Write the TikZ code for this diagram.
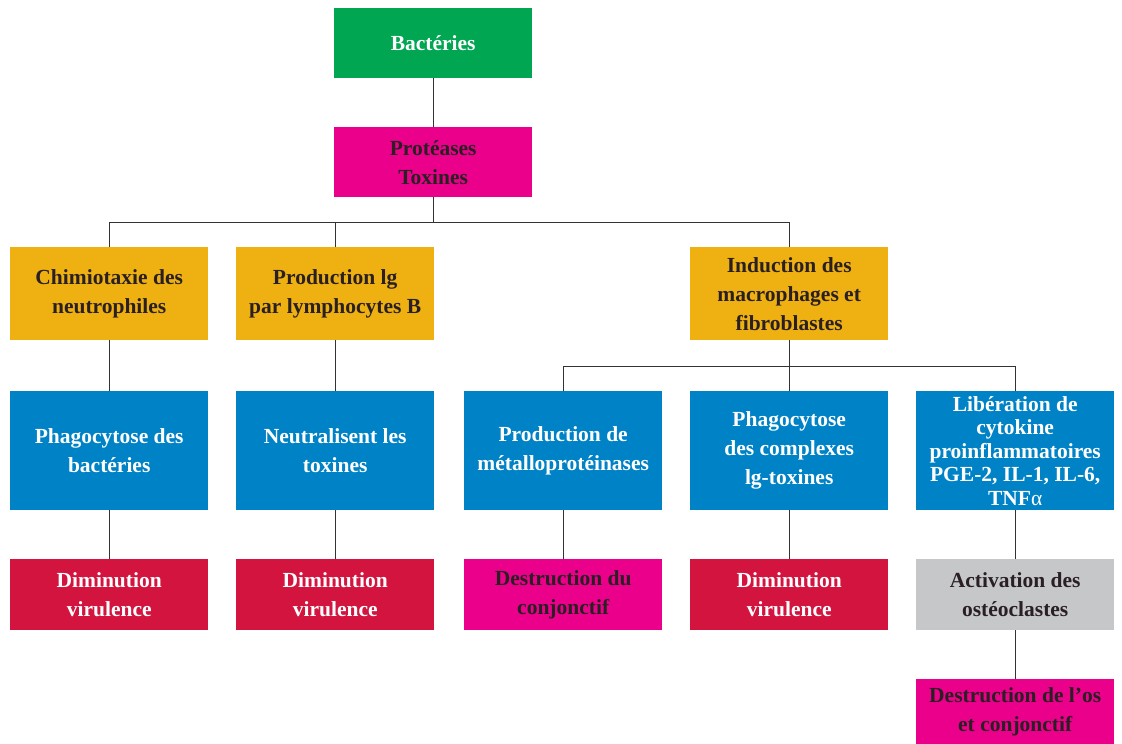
\documentclass[tikz,border=0pt]{standalone}
\usepackage{fontspec}
\setmainfont{Liberation Serif}
\definecolor{cgreen}{HTML}{00A651}
\definecolor{cmag}{HTML}{EA008A}
\definecolor{corange}{HTML}{EEB111}
\definecolor{cblue}{HTML}{0082C6}
\definecolor{ccrim}{HTML}{D2143F}
\definecolor{cgrey}{HTML}{C6C7C9}
\definecolor{ctext}{HTML}{2A2024}
\definecolor{cline}{HTML}{333333}
\tikzset{
  box/.style={anchor=north west, inner sep=0pt, minimum width=198pt, align=center,
    font=\bfseries\fontsize{21.5}{29}\selectfont},
  darktext/.style={text=ctext},
  lighttext/.style={text=white},
  conn/.style={draw=cline, line width=1.3pt},
}
\begin{document}
\begin{tikzpicture}[x=1pt,y=-1pt]
\useasboundingbox (0,0) rectangle (1122,744);
\fill[white] (0,0) rectangle (1122,744);
% row 1
\node[box, lighttext, fill=cgreen, minimum height=70pt] (bact) at (334,8) {Bactéries};
\node[box, darktext, fill=cmag, minimum height=70pt] (prot) at (334,127) {Protéases\\Toxines};
% row 2
\node[box, darktext, fill=corange, minimum height=93pt] (chim) at (10,247) {Chimiotaxie des\\neutrophiles};
\node[box, darktext, fill=corange, minimum height=93pt] (prodlg) at (236,247) {Production lg\\par lymphocytes B};
\node[box, darktext, fill=corange, minimum height=93pt] (ind) at (690,247) {Induction des\\macrophages et\\fibroblastes};
% row 3
\node[box, lighttext, fill=cblue, minimum height=119pt] (phag) at (10,391) {Phagocytose des\\bactéries};
\node[box, lighttext, fill=cblue, minimum height=119pt] (neut) at (236,391) {Neutralisent les\\toxines};
\node[box, lighttext, fill=cblue, minimum height=119pt] (metal) at (464,391) {Production de\\métalloprotéinases};
\node[box, lighttext, fill=cblue, minimum height=119pt] (phagc) at (690,391) {Phagocytose\\des complexes\\lg-toxines};
\node[box, lighttext, fill=cblue, minimum height=119pt, font=\bfseries\fontsize{21.5}{23.5}\selectfont] (lib) at (916,391) {Libération de\\cytokine\\proinflammatoires\\PGE-2, IL-1, IL-6,\\TNF{\mdseries α}};
% row 4
\node[box, lighttext, fill=ccrim, minimum height=71pt] (dim1) at (10,559) {Diminution\\virulence};
\node[box, lighttext, fill=ccrim, minimum height=71pt] (dim2) at (236,559) {Diminution\\virulence};
\node[box, darktext, fill=cmag, minimum height=71pt] (destc) at (464,559) {Destruction du\\conjonctif};
\node[box, lighttext, fill=ccrim, minimum height=71pt] (dim3) at (690,559) {Diminution\\virulence};
\node[box, darktext, fill=cgrey, minimum height=71pt] (act) at (916,559) {Activation des\\ostéoclastes};
% row 5
\node[box, darktext, fill=cmag, minimum height=66pt] (desto) at (916,679) {Destruction de l’os\\et conjonctif};
% connectors
\draw[conn] (bact.south) -- (prot.north);
\draw[conn] (prot.south) -- ++(0,25) coordinate (j1);
\draw[conn] (chim.north) |- (j1);
\draw[conn] (ind.north) |- (j1);
\draw[conn] (prodlg.north) -- (prodlg.north |- j1);
\draw[conn] (ind.south) -- ++(0,26) coordinate (j2);
\draw[conn] (metal.north) |- (j2);
\draw[conn] (lib.north) |- (j2);
\draw[conn] (phagc.north) -- (phagc.north |- j2);
\draw[conn] (chim.south) -- (phag.north);
\draw[conn] (prodlg.south) -- (neut.north);
\draw[conn] (phag.south) -- (dim1.north);
\draw[conn] (neut.south) -- (dim2.north);
\draw[conn] (metal.south) -- (destc.north);
\draw[conn] (phagc.south) -- (dim3.north);
\draw[conn] (lib.south) -- (act.north);
\draw[conn] (act.south) -- (desto.north);
\end{tikzpicture}
\end{document}
